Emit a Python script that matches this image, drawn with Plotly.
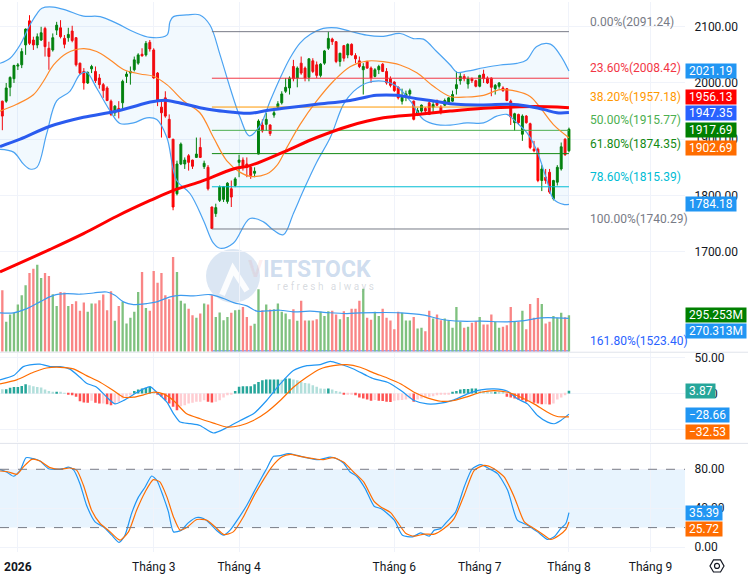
import math
import plotly.graph_objects as go

# ---------------- daily candles, first visible session = index 0 ----------------
opens = [1967.6, 1967.6, 1992.3, 2007.6, 2030.0, 2032.3, 2067.6, 2110.5, 2076.4, 2067.6,
         2076.4, 2097.0, 2061.7, 2058.7, 2094.0, 2098.1, 2079.3, 2080.5, 2092.3, 2080.5,
         2035.2, 2020.5, 2000.0, 2025.0, 2020.5, 2008.8, 1997.0, 1991.1, 1967.6, 1947.0,
         1954.7, 1964.7, 2011.7, 2017.6, 2023.5, 2035.2, 2051.1, 2049.9, 2072.3, 2058.7,
         2017.6, 1957.0, 1973.5, 1935.3, 1900.0, 1803.0, 1855.9, 1855.9, 1870.6, 1862.9,
         1867.6, 1885.3, 1851.2, 1850.0, 1779.4, 1767.7, 1791.2, 1793.0, 1789.4, 1811.8,
         1817.7, 1858.8, 1862.9, 1855.9, 1850.0, 1839.4, 1873.5, 1925.3, 1926.4, 1925.3,
         1942.9, 1957.0, 1964.7, 1985.2, 1991.1, 2029.3, 2008.8, 2035.2, 2026.4, 2009.9,
         2039.3, 2032.3, 2013.5, 2035.2, 2061.7, 2078.1, 2073.4, 2038.2, 2066.4, 2049.9,
         2068.7, 2048.7, 2039.3, 2023.5, 2038.2, 2026.4, 2011.7, 2023.5, 2033.5, 2020.5,
         2007.6, 2001.7, 1992.3, 1967.6, 1974.7, 1980.5, 1967.6, 1942.9, 1950.0, 1954.7,
         1964.7, 1957.0, 1968.8, 1957.0, 1960.5, 1964.7, 1967.6, 1989.9, 2004.1, 2011.7,
         1998.2, 2007.6, 2004.1, 1994.1, 2015.8, 2008.8, 2008.8, 1989.9, 1994.1, 1991.1,
         1989.9, 1967.6, 1929.4, 1944.1, 1908.8, 1941.1, 1927.6, 1882.3, 1882.3, 1826.5,
         1832.4, 1841.2, 1794.1, 1823.5, 1847.1, 1900.0, 1879.4]
highs = [1968.5, 2000.0, 2011.7, 2032.3, 2035.5, 2061.7, 2097.0, 2120.5, 2082.3, 2088.1,
         2099.9, 2100.0, 2073.4, 2088.1, 2108.7, 2111.7, 2085.2, 2098.1, 2101.7, 2081.0,
         2036.0, 2026.4, 2020.5, 2032.3, 2029.3, 2015.8, 2000.0, 1994.1, 1970.5, 1960.5,
         1967.6, 2005.8, 2020.5, 2029.3, 2047.0, 2052.9, 2061.7, 2074.6, 2076.4, 2061.7,
         2019.5, 1967.6, 1985.2, 1944.1, 1900.5, 1861.8, 1894.1, 1867.6, 1873.5, 1863.5,
         1902.9, 1902.9, 1861.8, 1853.9, 1780.0, 1785.3, 1817.7, 1816.0, 1823.5, 1826.5,
         1832.4, 1872.3, 1867.6, 1867.6, 1853.9, 1850.0, 1935.3, 1935.3, 1947.0, 1926.4,
         1955.8, 1967.6, 1985.2, 2008.8, 2011.7, 2041.1, 2029.3, 2047.0, 2029.3, 2044.0,
         2044.0, 2038.2, 2035.2, 2058.7, 2091.24, 2080.5, 2074.6, 2053.5, 2067.6, 2070.5,
         2070.5, 2052.9, 2047.0, 2035.2, 2039.3, 2029.3, 2026.4, 2032.3, 2035.2, 2026.4,
         2011.7, 2002.9, 1994.1, 1989.9, 1986.4, 1989.9, 1968.8, 1955.8, 1961.7, 1957.0,
         1967.6, 1967.6, 1970.5, 1960.5, 1972.3, 1974.7, 1986.4, 2020.5, 2017.6, 2015.8,
         2011.7, 2009.9, 2005.8, 2014.6, 2023.5, 2011.7, 2009.9, 1998.2, 2001.7, 1994.1,
         1991.1, 1970.5, 1947.0, 1945.3, 1944.1, 1942.9, 1929.4, 1897.0, 1885.3, 1853.9,
         1847.1, 1847.1, 1827.7, 1853.9, 1894.1, 1901.7, 1920.6]
lows = [1916.0, 1964.7, 1976.4, 2000.0, 2023.0, 2026.4, 2050.0, 2067.6, 2058.7, 2061.7,
        2074.6, 2047.0, 2023.5, 2055.8, 2085.2, 2079.3, 2061.7, 2073.4, 2072.3, 2029.3,
        2014.6, 1988.2, 1998.2, 2017.6, 2000.0, 1989.9, 1973.5, 1967.6, 1941.1, 1941.1,
        1937.0, 1952.9, 2000.0, 1997.0, 2020.5, 2032.3, 2047.0, 2047.0, 2055.8, 2007.6,
        1958.8, 1902.9, 1938.2, 1901.7, 1773.6, 1800.0, 1853.9, 1847.1, 1844.1, 1847.1,
        1867.0, 1866.5, 1847.1, 1808.8, 1740.29, 1761.8, 1788.3, 1788.3, 1785.3, 1779.4,
        1814.7, 1832.4, 1844.1, 1832.4, 1829.4, 1832.4, 1873.0, 1911.7, 1914.7, 1905.9,
        1938.2, 1952.9, 1961.7, 1982.3, 1979.4, 2002.9, 1992.3, 2014.6, 2002.9, 2002.9,
        2017.6, 2008.8, 2009.9, 2032.3, 2058.7, 2067.6, 2035.2, 2029.3, 2038.2, 2044.0,
        2048.7, 2035.2, 2026.4, 1979.4, 2025.2, 2000.0, 2009.9, 2015.8, 2019.4, 1997.0,
        1992.3, 1984.1, 1970.5, 1961.7, 1967.6, 1973.5, 1933.5, 1941.1, 1947.0, 1944.1,
        1942.9, 1947.0, 1958.8, 1944.1, 1958.8, 1961.7, 1966.4, 1979.4, 1997.0, 2002.9,
        1989.9, 2000.0, 1992.3, 1992.3, 2000.0, 1998.2, 1976.4, 1979.4, 1989.9, 1984.1,
        1967.6, 1925.3, 1914.7, 1925.3, 1897.0, 1927.6, 1882.3, 1876.7, 1823.5, 1807.7,
        1820.6, 1803.0, 1791.2, 1817.7, 1844.1, 1870.6, 1876.7]
closes = [1941.1, 1991.1, 2009.9, 2031.1, 2032.0, 2055.8, 2095.8, 2070.5, 2067.6, 2082.3,
          2089.3, 2064.6, 2047.0, 2080.5, 2102.8, 2082.3, 2068.7, 2086.4, 2075.4, 2032.3,
          2017.6, 2000.0, 2018.8, 2029.3, 2004.1, 1997.0, 1986.4, 1968.8, 1944.1, 1958.8,
          1950.0, 2002.9, 2015.8, 2020.5, 2041.1, 2049.9, 2048.2, 2070.5, 2060.5, 2008.8,
          1967.6, 1947.0, 1941.1, 1902.9, 1779.4, 1855.9, 1891.2, 1862.9, 1858.8, 1851.8,
          1873.5, 1867.6, 1857.1, 1811.8, 1741.0, 1778.3, 1814.7, 1815.5, 1821.8, 1797.1,
          1829.4, 1862.9, 1850.0, 1850.0, 1835.3, 1843.0, 1932.3, 1914.7, 1935.3, 1910.0,
          1947.0, 1962.9, 1980.5, 1992.3, 2008.8, 2007.6, 2026.4, 2017.6, 2008.8, 2042.9,
          2020.5, 2013.5, 2033.5, 2057.0, 2079.3, 2073.4, 2038.2, 2052.9, 2044.0, 2068.7,
          2049.9, 2042.9, 2029.3, 2029.3, 2026.4, 2008.8, 2023.5, 2029.3, 2020.5, 2000.0,
          1995.8, 1986.4, 1973.5, 1974.7, 1980.5, 1986.4, 1935.3, 1951.1, 1960.5, 1950.0,
          1944.1, 1961.7, 1960.5, 1950.0, 1968.8, 1973.5, 1979.4, 1997.0, 2011.7, 2007.6,
          2007.6, 2004.1, 1994.1, 2013.5, 2007.6, 2000.0, 1992.3, 1995.8, 2000.0, 1986.4,
          1968.8, 1939.4, 1945.3, 1929.4, 1941.1, 1929.4, 1885.3, 1879.4, 1826.5, 1847.1,
          1826.5, 1805.9, 1826.5, 1850.0, 1886.5, 1872.3, 1917.69]
# volume, million shares
volumes = [499, 243, 302, 316, 383, 458, 539, 639, 674, 706,
           599, 639, 615, 467, 372, 485, 480, 372, 388, 410,
           332, 399, 324, 391, 391, 418, 464, 337, 491, 251,
           372, 405, 229, 275, 324, 485, 647, 356, 332, 655,
           561, 639, 458, 426, 769, 647, 413, 391, 350, 297,
           275, 310, 391, 383, 458, 283, 318, 256, 283, 316,
           337, 340, 364, 283, 210, 227, 507, 337, 383, 342,
           344, 391, 324, 310, 264, 344, 251, 413, 253, 253,
           253, 264, 324, 291, 329, 332, 302, 264, 329, 283,
           350, 350, 413, 512, 275, 259, 324, 291, 350, 275,
           253, 183, 324, 316, 253, 253, 283, 189, 194, 167,
           332, 270, 302, 256, 270, 256, 194, 364, 243, 194,
           202, 235, 248, 283, 221, 221, 302, 243, 194, 202,
           216, 364, 243, 243, 332, 183, 388, 275, 437, 388,
           229, 243, 291, 275, 316, 280, 295.253]
macd_hist = [6, 6, 8, 9, 9, 10.6, 13, 11.6, 10, 9,
             8.3, 5.6, 3.7, 2.3, 2.3, 1.4, 0.3, -1, -2.3, -4.6,
             -10.6, -12.5, -13, -10, -13, -13.9, -13.9, -14.8, -16.2, -13.9,
             -11.6, -7, -4.6, -2.3, 3.7, 5.6, 7, 7.9, 9.3, 2.3,
             -1, -4.6, -9.3, -13.9, -18.5, -23.2, -17.6, -16.2, -13.9, -13,
             -11.6, -11.6, -9.3, -11.6, -12.5, -11.6, -9.3, -5.6, -2.3, -1,
             3.7, 9.3, 10.2, 10.2, 10.2, 13, 16.2, 18.5, 19.4, 19.4,
             19.4, 19.4, 19.2, 20.8, 20.8, 19.4, 18.5, 16.2, 14.8, 13.9,
             11.6, 9.3, 7, 6.8, 7, 5.6, 3.7, 2.3, -1, -1,
             -1, -2.3, -5.6, -7, -8.3, -10.2, -9, -10, -10.4, -11.6,
             -11.8, -10, -9.3, -9.0, -8.3, -7, -11.6, -8.3, -7, -5.6,
             -4.6, -3.7, -2.3, -1.4, -1, -0.8, 2.3, 3.7, 5.6, 6.2,
             6.5, 7, 7.1, 4.6, 3.7, 3.2, 2.3, 2.3, 1.8, 1.4,
             -4.6, -5.6, -7, -8.3, -9.3, -11.6, -11.6, -13, -13.9, -14.8,
             -14.8, -15.3, -13.9, -8.3, -5.6, -2.3, 3.87]

# indicator curves as (session index, value)
bb_upper = [(-0.6, 2035), (2.0, 2044), (4.6, 2068), (7.1, 2103), (8.9, 2123), (10.2, 2133),
            (13.2, 2135), (16.6, 2129), (20.9, 2119), (25.2, 2118), (29.5, 2106), (33.8, 2091),
            (38.1, 2081), (42.4, 2085), (43.2, 2109), (44.1, 2118), (47.5, 2121), (50.9, 2121),
            (53.5, 2103), (56.1, 2050), (58.7, 1991), (61.3, 1938), (63.6, 1906), (66.4, 1924),
            (69.0, 1968), (71.6, 2009), (74.1, 2044), (76.7, 2071), (79.3, 2086), (82.7, 2097),
            (86.2, 2098), (89.6, 2092), (93.9, 2085), (98.2, 2083), (102.5, 2088), (105.9, 2079),
            (108.5, 2078), (111.9, 2056), (115.4, 2032), (117.1, 2019), (119.7, 2021), (124.0, 2027),
            (128.3, 2032), (132.6, 2035), (135.1, 2041), (137.7, 2065), (141.2, 2069), (143.7, 2050),
            (146.0, 2021.19)]
bb_middle = [(-0.6, 1950), (3.7, 1962), (8.0, 1979), (10.6, 2003), (13.2, 2032), (16.6, 2053),
             (20.9, 2061), (24.3, 2056), (27.8, 2041), (31.2, 2024), (35.5, 2016), (38.9, 2012),
             (42.4, 1997), (46.7, 1968), (50.9, 1947), (54.4, 1903), (57.8, 1862), (61.3, 1841),
             (63.8, 1834), (68.1, 1838), (70.7, 1853), (73.3, 1885), (76.7, 1926), (81.0, 1968),
             (85.3, 2003), (89.6, 2029), (93.9, 2039), (98.2, 2038), (102.5, 2032), (106.8, 2018),
             (111.1, 1994), (115.4, 1976), (119.7, 1975), (124.0, 1978), (128.3, 1988), (132.6, 1985),
             (136.0, 1976), (138.6, 1956), (142.0, 1926), (146.0, 1902.69)]
bb_lower = [(-0.6, 1882), (2.9, 1877), (5.4, 1856), (7.1, 1847), (8.9, 1850), (11.4, 1909),
            (14.0, 1968), (17.4, 1985), (20.0, 2015), (21.7, 2019), (24.3, 1991), (27.8, 1950),
            (30.3, 1928), (33.8, 1929), (37.2, 1938), (39.8, 1935), (42.4, 1903), (44.9, 1827),
            (48.4, 1803), (51.8, 1756), (54.4, 1715), (56.1, 1706), (59.5, 1715), (63.8, 1759),
            (67.3, 1753), (69.9, 1738), (72.4, 1730), (75.0, 1768), (77.6, 1809), (81.0, 1859),
            (84.5, 1903), (87.9, 1962), (90.5, 1985), (93.9, 2000), (98.2, 2003), (101.6, 1994),
            (105.1, 1968), (108.5, 1935), (111.9, 1926), (115.4, 1925), (119.7, 1929), (124.0, 1929),
            (127.4, 1941), (130.0, 1944), (132.6, 1929), (135.1, 1912), (137.7, 1880), (140.3, 1827),
            (142.0, 1794), (144.6, 1784), (146.0, 1784.18)]
ma_blue = [(-0.6, 1887), (4.6, 1900), (12.3, 1923), (20.9, 1939), (29.5, 1950), (38.1, 1966),
           (39.8, 1968), (42.4, 1969), (46.7, 1963), (50.9, 1956), (55.2, 1951), (59.5, 1948),
           (63.8, 1946), (68.1, 1951), (72.4, 1955), (81.0, 1962), (89.6, 1969), (96.4, 1978),
           (101.6, 1978), (106.8, 1972), (111.1, 1968), (117.1, 1962), (124.0, 1961), (130.8, 1962),
           (135.1, 1959), (139.4, 1953), (142.9, 1947), (146.0, 1947.35)]
ma_red = [(-0.6, 1664), (12.3, 1704), (20.9, 1732), (29.5, 1763), (38.1, 1791), (44.1, 1809),
          (50.9, 1824), (59.5, 1847), (63.8, 1853), (72.4, 1877), (81.0, 1903), (89.6, 1924),
          (98.2, 1938), (106.8, 1944), (115.4, 1950), (124.0, 1955), (130.8, 1957), (136.8, 1958),
          (146.0, 1956.13)]
vol_ma = [(-0.6, 316), (2.9, 316), (6.3, 350), (9.7, 405), (13.2, 458), (16.6, 472), (20.0, 467),
          (23.5, 477), (26.9, 485), (29.0, 458), (31.2, 405), (33.8, 383), (37.2, 391), (39.8, 405),
          (43.2, 445), (45.8, 458), (49.2, 453), (53.5, 464), (57.0, 432), (59.6, 399), (63.0, 372),
          (65.6, 329), (68.1, 332), (71.6, 337), (75.0, 324), (79.3, 329), (83.6, 318), (88.8, 310),
          (92.2, 316), (95.8, 318), (102.7, 316), (108.7, 297), (113.0, 264), (118.1, 248),
          (123.3, 248), (130.2, 243), (134.5, 253), (138.8, 275), (146.0, 270.313)]
macd_line = [(-0.6, 19), (2.9, 25), (5.4, 37.5), (7.1, 40), (9.7, 41), (12.3, 37.5), (14.9, 37.5),
             (17.4, 34), (20.0, 22.7), (21.7, 14.4), (24.3, 8.8), (26.9, -5), (29.0, -14.4),
             (31.2, -9.7), (33.8, -1.4), (36.4, 6.5), (38.1, 9.7), (39.8, 1.8), (42.4, -12),
             (44.1, -28), (45.8, -39.8), (48.4, -42), (50.9, -44.5), (54.4, -55), (57.8, -47.7),
             (61.3, -37.5), (64.7, -28.3), (68.1, -9.7), (71.6, 13.4), (75.0, 32), (78.5, 38.9),
             (81.9, 40.3), (84.5, 44.9), (87.0, 41.2), (90.5, 34.3), (93.9, 25), (95.8, 20.4),
             (99.2, 15.7), (102.7, 4.2), (106.1, -9.7), (109.5, -14.4), (113.0, -13.4),
             (116.4, -8.8), (119.9, -0.5), (123.3, 5), (126.7, 6.5), (130.2, 3.2), (132.7, -7.4),
             (135.3, -14.4), (137.9, -30.6), (140.5, -39.8), (142.2, -42.1), (143.9, -37.5),
             (146.0, -28.66)]
macd_signal = [(-0.6, 13.4), (3.7, 19), (8.0, 29.6), (11.4, 35.6), (14.9, 36.6), (18.3, 34.3),
               (21.7, 25), (25.2, 15.7), (28.6, 4.2), (31.2, -5.1), (33.8, -5.1), (36.4, -1.9),
               (38.9, 1.8), (41.5, -0.5), (44.1, -9.7), (47.5, -28.3), (51.0, -35.2), (54.4, -41.2),
               (57.8, -46.8), (61.3, -44.5), (64.7, -37.5), (68.1, -26), (71.6, -9.7), (75.0, 8.8),
               (78.4, 22.7), (81.9, 34.3), (85.3, 38.9), (88.8, 40.3), (92.2, 36.6), (95.8, 28.5),
               (99.2, 21.7), (102.7, 13.4), (106.1, 1.8), (109.5, -6), (113.0, -10.7), (116.4, -9.7),
               (119.9, -4.2), (123.3, 1.8), (126.7, 4.2), (130.2, 1.8), (133.6, -5.1), (137.0, -14.4),
               (140.5, -26), (143.0, -32), (146.0, -32.53)]
stoch_k = [(-0.6, 79.6), (1.1, 77.2), (2.9, 72.8), (4.6, 78.9), (6.1, 91.9), (8.0, 90.9), (9.7, 88.5),
           (11.9, 80.6), (14.0, 80), (15.7, 80.6), (17.0, 82.3), (18.3, 79.6), (20.0, 65.2), (21.7, 43),
           (23.9, 25.9), (26.0, 20.8), (28.2, 12.2), (30.1, 4.7), (31.6, 12.2), (33.3, 34.5),
           (35.1, 51.6), (36.8, 61.8), (38.5, 73.1), (39.8, 68.7), (41.5, 51.6), (42.8, 36.2),
           (44.1, 15.6), (46.2, 17.4), (47.9, 24.9), (50.1, 30.4), (51.8, 29.3), (53.5, 24.2),
           (55.3, 16.7), (57.0, 12.2), (58.7, 17.4), (60.8, 29.3), (63.0, 43), (64.7, 55.7),
           (66.9, 72.1), (68.1, 80.6), (69.9, 93.3), (71.6, 94), (73.7, 96), (75.9, 94.3),
           (78.4, 91.9), (81.5, 89.9), (84.5, 92.6), (86.2, 90.9), (87.9, 86.4), (89.6, 77.2),
           (91.3, 72.8), (93.5, 60.1), (95.8, 42), (97.5, 39.6), (99.2, 34.5), (101.0, 27.6),
           (103.1, 12.2), (105.7, 10.5), (107.8, 14.6), (110.0, 11.2), (111.3, 17.4), (113.0, 19.1),
           (114.7, 26.6), (116.8, 36.2), (119.0, 61.8), (121.1, 80.6), (123.3, 84.7), (125.4, 80.6),
           (127.6, 75.5), (130.2, 58.4), (132.7, 27.6), (135.3, 22.5), (137.9, 15.6), (140.5, 7.8),
           (142.2, 10.5), (143.9, 19.1), (145.2, 24.2), (146.0, 35.39)]
stoch_d = [(-0.6, 78.2), (1.6, 77.2), (3.7, 74.8), (5.4, 82.3), (7.6, 90.2), (9.7, 88.5), (12.3, 81.7),
           (14.9, 80), (17.4, 81.3), (19.2, 78.9), (20.9, 63.5), (23.0, 37.9), (25.2, 24.2),
           (27.3, 17.4), (30.3, 7.1), (32.5, 15.6), (34.6, 37.9), (36.8, 56.7), (38.9, 69.3),
           (40.6, 67), (42.4, 51.6), (44.1, 31), (45.8, 17.4), (47.5, 20.1), (50.1, 28.3),
           (52.7, 27.6), (54.8, 20.8), (57.1, 12.9), (59.5, 15.6), (62.1, 31), (64.7, 51.6),
           (67.3, 69.3), (69.4, 82.3), (72.0, 92.6), (74.2, 95.3), (76.7, 93.3), (80.2, 90.9),
           (82.7, 89.9), (85.3, 91.9), (87.9, 87.5), (90.5, 77.2), (93.1, 67), (95.8, 47),
           (97.5, 41.3), (100.1, 35.2), (101.8, 25.9), (104.0, 13.9), (106.1, 11.2), (108.7, 13.3),
           (111.3, 13.3), (113.8, 19.1), (116.4, 29.3), (119.0, 53.3), (121.6, 78.9), (124.2, 84.1),
           (126.7, 80.6), (129.3, 72.1), (131.9, 51.6), (134.5, 25.9), (137.0, 19.1), (139.6, 12.2),
           (141.3, 7.8), (143.5, 12.2), (145.2, 18.1), (146.0, 25.72)]

# Fibonacci retracement
fib_levels = [2091.24, 2008.42, 1957.18, 1915.77, 1874.35, 1815.39, 1740.29, 1523.40]
fib_pcts = ['0.00%', '23.60%', '38.20%', '50.00%', '61.80%', '78.60%', '100.00%', '161.80%']
fib_colors = ['#787B86', '#F23645', '#FF9800', '#4CAF50', '#138A13', '#00BCD4', '#787B86', '#2962FF']

# x axis ticks (session index of the first session of each month)
tick_pos = [4, 39, 61, 101, 123, 146, 167]
tick_labels = ['<b>2026</b>', 'Tháng 3', 'Tháng 4', 'Tháng 6', 'Tháng 7', 'Tháng 8', 'Tháng 9']

# ---------------- figure ----------------
W, H = 748, 577
M_R, M_B = 63, 25
PW, PH = W - M_R, H - M_B
X_RANGE = [-0.6, 175.9]
GRID = '#F0F3FA'


def xs(pts):
    return [p[0] for p in pts]


def ys(pts):
    return [p[1] for p in pts]


def paper(px, py):
    return px / PW, (PH - py) / PH


n = len(closes)
idx = list(range(n))
rising = [c >= o for o, c in zip(opens, closes)]

fig = go.Figure()

# Bollinger fill + band lines
band = bb_upper + bb_lower[::-1]
fig.add_trace(go.Scatter(x=xs(band), y=ys(band), fill='toself', mode='lines',
                         fillcolor='rgba(33,150,243,0.06)', line=dict(width=0)))
for pts in (bb_upper, bb_lower):
    fig.add_trace(go.Scatter(x=xs(pts), y=ys(pts), mode='lines',
                             line=dict(color='#4BA3F2', width=1.2, shape='spline')))

# fib lines
fib_start = lows.index(min(lows))
fib_end = n - 1
for lvl, col in zip(fib_levels, fib_colors):
    fig.add_trace(go.Scatter(x=[fib_start, fib_end], y=[lvl, lvl], mode='lines',
                             line=dict(color=col, width=1)))

fig.add_trace(go.Scatter(x=xs(bb_middle), y=ys(bb_middle), mode='lines',
                         line=dict(color='#FF8A2A', width=1.2, shape='spline')))
fig.add_trace(go.Scatter(x=xs(ma_red), y=ys(ma_red), mode='lines',
                         line=dict(color='#FF0000', width=3, shape='spline')))
fig.add_trace(go.Scatter(x=xs(ma_blue), y=ys(ma_blue), mode='lines',
                         line=dict(color='#2A5BEF', width=3, shape='spline')))

fig.add_trace(go.Candlestick(
    x=idx, open=opens, high=highs, low=lows, close=closes,
    increasing=dict(line=dict(color='#008000', width=1), fillcolor='#008000'),
    decreasing=dict(line=dict(color='#FF0000', width=1), fillcolor='#FF0000'),
    whiskerwidth=0))

# volume on an overlaid axis
fig.add_trace(go.Bar(x=idx, y=volumes, yaxis='y2', width=0.6,
                     marker=dict(color=['#7FC17F' if r else '#F98585' for r in rising], line=dict(width=0))))
fig.add_trace(go.Scatter(x=xs(vol_ma), y=ys(vol_ma), yaxis='y2', mode='lines',
                         line=dict(color='#3D9BEF', width=1.2, shape='spline')))

# MACD
hist_colors = []
prev = macd_hist[0] + 1
for h in macd_hist:
    if h >= 0:
        hist_colors.append('#26A69A' if h >= prev else '#B2DFDB')
    else:
        hist_colors.append('#FFCDD2' if h >= prev else '#FF5252')
    prev = h
fig.add_trace(go.Bar(x=idx, y=macd_hist, xaxis='x2', yaxis='y3', width=0.65,
                     marker=dict(color=hist_colors, line=dict(width=0))))
fig.add_trace(go.Scatter(x=xs(macd_line), y=ys(macd_line), xaxis='x2', yaxis='y3', mode='lines',
                         line=dict(color='#2196F3', width=1.2, shape='spline', smoothing=0.6)))
fig.add_trace(go.Scatter(x=xs(macd_signal), y=ys(macd_signal), xaxis='x2', yaxis='y3', mode='lines',
                         line=dict(color='#FF6D00', width=1.2, shape='spline', smoothing=0.6)))

# Stochastic
fig.add_trace(go.Scatter(x=xs(stoch_k), y=ys(stoch_k), xaxis='x3', yaxis='y4', mode='lines',
                         line=dict(color='#2196F3', width=1.2, shape='spline', smoothing=0.6)))
fig.add_trace(go.Scatter(x=xs(stoch_d), y=ys(stoch_d), xaxis='x3', yaxis='y4', mode='lines',
                         line=dict(color='#FF6D00', width=1.2, shape='spline', smoothing=0.6)))

shapes = [
    dict(type='rect', xref='x3 domain', yref='y4', x0=0, x1=1, y0=20, y1=80,
         fillcolor='rgba(33,150,243,0.1)', line=dict(width=0), layer='below'),
    dict(type='line', xref='x3 domain', yref='y4', x0=0, x1=1, y0=80, y1=80,
         line=dict(color='#787B86', width=1, dash='dash')),
    dict(type='line', xref='x3 domain', yref='y4', x0=0, x1=1, y0=20, y1=20,
         line=dict(color='#787B86', width=1, dash='dash')),
]
# pane separators
for py in (351.5, 443):
    shapes.append(dict(type='line', xref='paper', yref='paper', x0=0, x1=W / PW,
                       y0=paper(0, py)[1], y1=paper(0, py)[1], line=dict(color='#E0E3EB', width=1)))
# watermark circle
cx0, cy0 = paper(206, 302)
cx1, cy1 = paper(260, 248)
shapes.append(dict(type='circle', xref='paper', yref='paper', x0=cx0, x1=cx1, y0=cy0, y1=cy1,
                   fillcolor='rgba(90,140,200,0.22)', line=dict(width=0), layer='below'))
ax0, ay0 = paper(222, 294)
ax1, ay1 = paper(233, 268)
ax2, ay2 = paper(247, 290)
shapes.append(dict(type='path', xref='paper', yref='paper', layer='below',
                   path=f'M {ax0},{ay0} L {ax1},{ay1} L {ax2},{ay2}',
                   line=dict(color='rgba(255,255,255,0.9)', width=6)))
# settings icon
gx, gy, gr = 717, 566, 7
hexa = [paper(gx + gr * math.cos(math.radians(a)), gy + gr * math.sin(math.radians(a)))
        for a in range(0, 360, 60)]
shapes.append(dict(type='path', xref='paper', yref='paper',
                   path='M ' + ' L '.join(f'{p[0]},{p[1]}' for p in hexa) + ' Z',
                   line=dict(color='#131722', width=1.2)))
c0 = paper(gx - 2.5, gy + 2.5)
c1 = paper(gx + 2.5, gy - 2.5)
shapes.append(dict(type='circle', xref='paper', yref='paper', x0=c0[0], x1=c1[0], y0=c0[1], y1=c1[1],
                   line=dict(color='#131722', width=1.2)))

annotations = []
for lvl, pct, col in zip(fib_levels, fib_pcts, fib_colors):
    annotations.append(dict(xref='x', yref='y', x=fib_end + 5, y=lvl, yshift=10,
                            text=f'{pct}({lvl:.2f})', showarrow=False, xanchor='left',
                            font=dict(color=col, size=12)))

tags = [(2021.19, '#2196F3', 'y', 0, '2021.19'), (1956.13, '#FF0000', 'y', 11, '1956.13'),
        (1947.35, '#2962FF', 'y', 0, '1947.35'), (1917.69, '#008000', 'y', -1, '1917.69'),
        (1902.69, '#FF6D00', 'y', -10, '1902.69'), (1784.18, '#2196F3', 'y', 0, '1784.18'),
        (295.253, '#008000', 'y2', 0, '295.253M'), (270.313, '#2196F3', 'y2', -13, '270.313M'),
        (3.87, '#26A69A', 'y3', 0, '3.87'), (-28.66, '#2196F3', 'y3', -1, '\u221228.66'),
        (-32.53, '#FF6D00', 'y3', -15, '\u221232.53'),
        (35.39, '#2196F3', 'y4', 0, '35.39'), (25.72, '#FF6D00', 'y4', -7, '25.72')]
for val, col, yref, shift, txt in tags:
    annotations.append(dict(xref='paper', yref=yref, x=1, y=val, yshift=shift, xanchor='left',
                            yanchor='middle', text='\u00a0' + txt + '\u00a0', showarrow=False,
                            bgcolor=col, borderpad=0, font=dict(color='white', size=12)))

wx, wy = paper(309, 268)
annotations.append(dict(xref='paper', yref='paper', x=wx, y=wy, showarrow=False,
                        text='<b><span style="color:rgba(235,90,90,0.3)">V</span>IETSTOCK</b>',
                        font=dict(size=23, color='rgba(90,140,200,0.3)')))
rx, ry = paper(325, 286)
annotations.append(dict(xref='paper', yref='paper', x=rx, y=ry, showarrow=False,
                        text='r e f r e s h   a l w a y s',
                        font=dict(size=10, color='rgba(140,150,165,0.35)')))

xcommon = dict(range=X_RANGE, tickvals=tick_pos, showgrid=True, gridcolor=GRID,
               zeroline=False, showline=False, fixedrange=True)
ycommon = dict(side='right', showgrid=True, gridcolor=GRID, zeroline=False, ticks='outside',
               ticklen=6, tickcolor='rgba(0,0,0,0)', tickfont=dict(size=12, color='#131722'))

price_ticks = [1700, 1800, 1900, 2000, 2100]
macd_ticks = [-50, 0, 50]
stoch_ticks = [0, 40, 80]

fig.update_layout(
    width=W, height=H,
    margin=dict(l=0, r=M_R, t=0, b=M_B),
    paper_bgcolor='white', plot_bgcolor='white',
    font=dict(family='Roboto', size=12, color='#131722'),
    showlegend=False, hovermode=False,
    xaxis=dict(xcommon, anchor='y', showticklabels=False, rangeslider=dict(visible=False)),
    xaxis2=dict(xcommon, anchor='y3', showticklabels=False),
    xaxis3=dict(xcommon, anchor='y4', ticktext=tick_labels, ticks='outside', ticklen=4,
                tickcolor='rgba(0,0,0,0)', tickfont=dict(size=12, color='#131722')),
    yaxis=dict(ycommon, domain=[paper(0, 351)[1], 1], range=[1522, 2144], anchor='x',
               tickvals=price_ticks, ticktext=[f'{v:.2f}' for v in price_ticks]),
    yaxis2=dict(overlaying='y', range=[0, 2840], visible=False, anchor='x'),
    yaxis3=dict(ycommon, domain=[paper(0, 442)[1], paper(0, 352)[1]], range=[-68.1, 56.9],
                anchor='x2', tickvals=macd_ticks, ticktext=[f'{v:.2f}' for v in macd_ticks]),
    yaxis4=dict(ycommon, domain=[0, paper(0, 444)[1]], range=[-5.1, 105.6], anchor='x3',
                tickvals=stoch_ticks, ticktext=[f'{v:.2f}' for v in stoch_ticks]),
    shapes=shapes,
    annotations=annotations,
)

# page body has a default 8px margin; drop it so the figure sits at the window's corner
fig.write_html('out.html', config={'displayModeBar': False},
               post_script="document.body.style.margin='0';")
